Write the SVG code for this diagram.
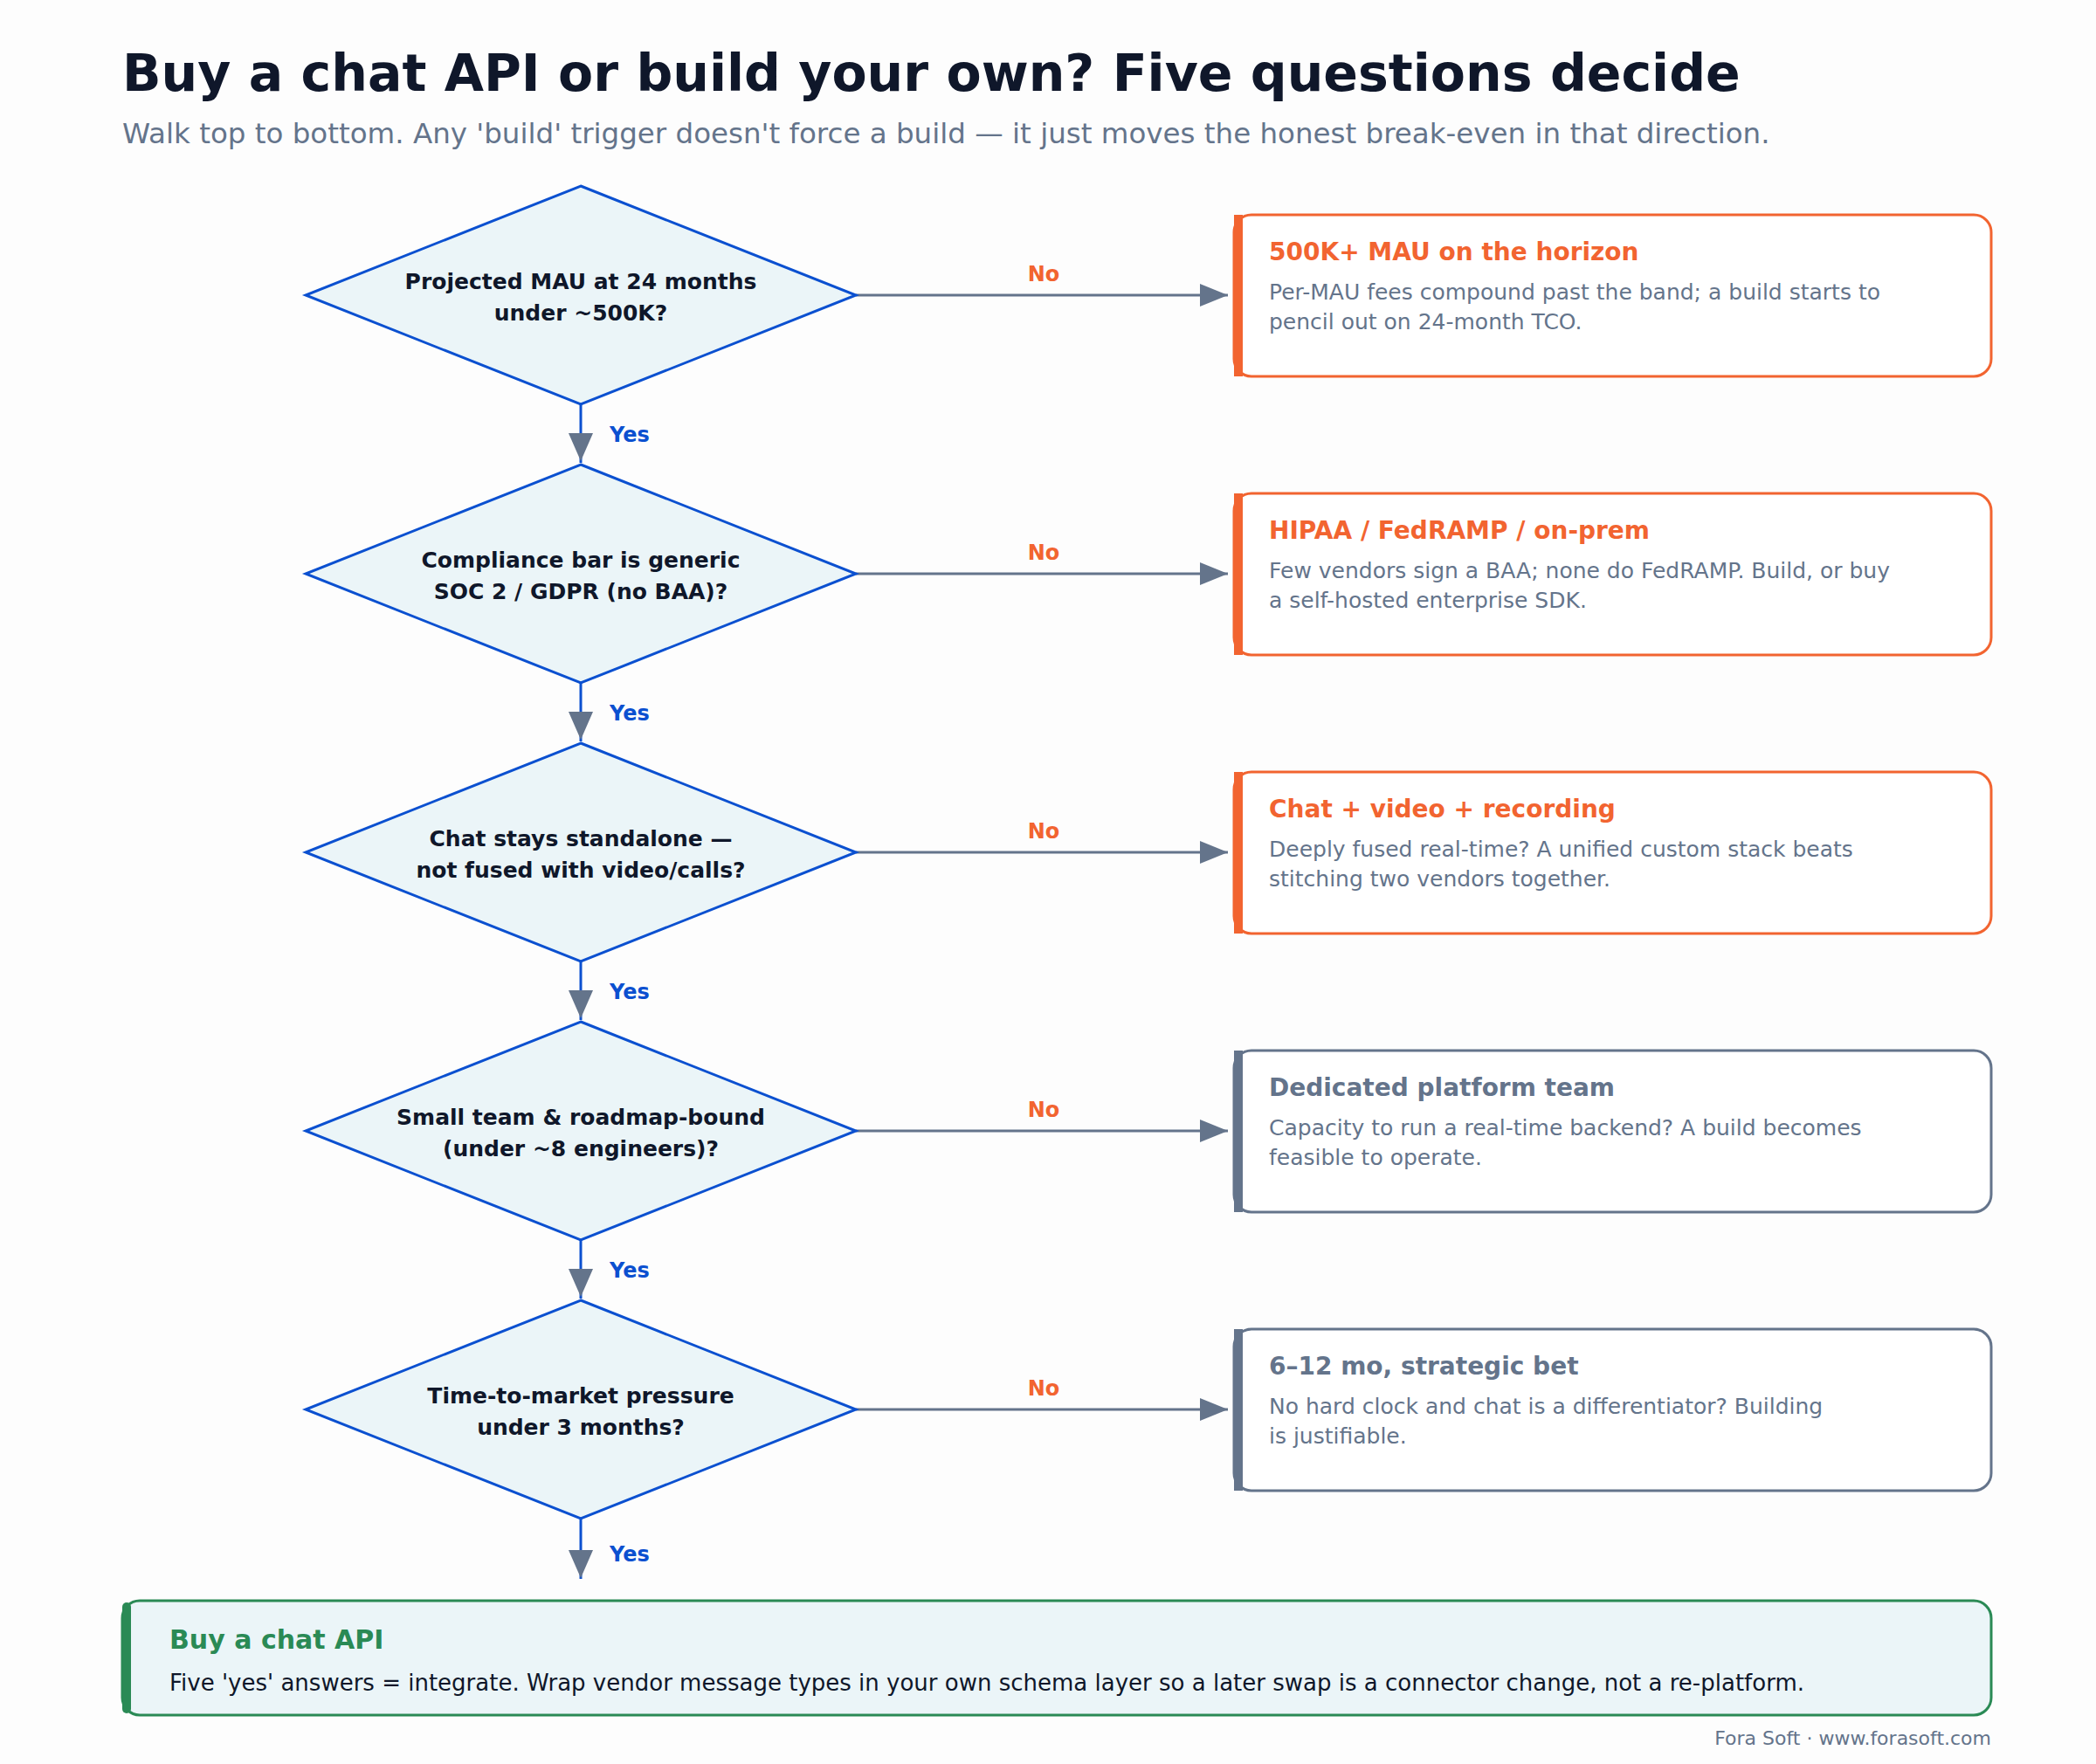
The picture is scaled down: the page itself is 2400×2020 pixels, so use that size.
<svg xmlns="http://www.w3.org/2000/svg" width="2400" height="2020" viewBox="0 0 2400 2020">
<style>
text{font-family:"DejaVu Sans","Liberation Sans",sans-serif}
.dia{fill:#EBF5F8;stroke:#0B50D0;stroke-width:3}
.dq{font-size:25px;font-weight:bold;fill:#0F172A;text-anchor:middle}
.ln{stroke:#64748B;stroke-width:3;fill:none}
.yl{stroke:#0B50D0;stroke-width:3;fill:none}
.no{font-size:24px;font-weight:bold;fill:#F26430;text-anchor:middle}
.yes{font-size:24px;font-weight:bold;fill:#0B50D0}
.bo{fill:#fff;stroke:#F26430;stroke-width:3}
.bg{fill:#fff;stroke:#64748B;stroke-width:3}
.bt{font-size:28px;font-weight:bold}
.bd{font-size:25px;fill:#64748B}
</style>
<defs>
<marker id="ah2" markerWidth="32" markerHeight="26" refX="32" refY="13" orient="auto" markerUnits="userSpaceOnUse"><path d="M0,0L32,13L0,26z" fill="#64748B"/></marker>
</defs>
<rect width="2400" height="2020" fill="#FDFDFD"/>
<text x="140" y="104" font-size="58.5" font-weight="bold" fill="#0F172A">Buy a chat API or build your own? Five questions decide</text>
<text x="140" y="164" font-size="32.5" fill="#64748B">Walk top to bottom. Any 'build' trigger doesn't force a build — it just moves the honest break-even in that direction.</text>

<g id="connectors">
<line class="ln" x1="980" y1="338" x2="1406" y2="338" marker-end="url(#ah2)"/>
<line class="ln" x1="980" y1="657" x2="1406" y2="657" marker-end="url(#ah2)"/>
<line class="ln" x1="980" y1="976" x2="1406" y2="976" marker-end="url(#ah2)"/>
<line class="ln" x1="980" y1="1295" x2="1406" y2="1295" marker-end="url(#ah2)"/>
<line class="ln" x1="980" y1="1614" x2="1406" y2="1614" marker-end="url(#ah2)"/>
<text class="no" x="1195" y="322">No</text>
<text class="no" x="1195" y="641">No</text>
<text class="no" x="1195" y="960">No</text>
<text class="no" x="1195" y="1279">No</text>
<text class="no" x="1195" y="1598">No</text>
<g>
<line class="yl" x1="665" y1="463" x2="665" y2="530"/>
<line class="yl" x1="665" y1="782" x2="665" y2="849"/>
<line class="yl" x1="665" y1="1101" x2="665" y2="1168"/>
<line class="yl" x1="665" y1="1420" x2="665" y2="1487"/>
<line class="yl" x1="665" y1="1739" x2="665" y2="1808"/>
<path d="M651,496L679,496L665,528z M651,815L679,815L665,847z M651,1134L679,1134L665,1166z M651,1453L679,1453L665,1485z M651,1775L679,1775L665,1807z" fill="#64748B"/>
</g>
<text class="yes" x="698" y="506">Yes</text>
<text class="yes" x="698" y="825">Yes</text>
<text class="yes" x="698" y="1144">Yes</text>
<text class="yes" x="698" y="1463">Yes</text>
<text class="yes" x="698" y="1788">Yes</text>
</g>

<g id="q1"><path class="dia" d="M665,213L980,338L665,463L350,338z"/><text class="dq" x="665" y="331">Projected MAU at 24 months</text><text class="dq" x="665" y="367">under ~500K?</text></g>
<g id="q2"><path class="dia" d="M665,532L980,657L665,782L350,657z"/><text class="dq" x="665" y="650">Compliance bar is generic</text><text class="dq" x="665" y="686">SOC 2 / GDPR (no BAA)?</text></g>
<g id="q3"><path class="dia" d="M665,851L980,976L665,1101L350,976z"/><text class="dq" x="665" y="969">Chat stays standalone —</text><text class="dq" x="665" y="1005">not fused with video/calls?</text></g>
<g id="q4"><path class="dia" d="M665,1170L980,1295L665,1420L350,1295z"/><text class="dq" x="665" y="1288">Small team &amp; roadmap-bound</text><text class="dq" x="665" y="1324">(under ~8 engineers)?</text></g>
<g id="q5"><path class="dia" d="M665,1489L980,1614L665,1739L350,1614z"/><text class="dq" x="665" y="1607">Time-to-market pressure</text><text class="dq" x="665" y="1643">under 3 months?</text></g>

<g id="o1"><rect class="bo" x="1413" y="246" width="867" height="185" rx="20"/><rect x="1413" y="246" width="10" height="185" fill="#F26430"/><text class="bt" x="1453" y="298" fill="#F26430">500K+ MAU on the horizon</text><text class="bd" x="1453" y="343">Per-MAU fees compound past the band; a build starts to</text><text class="bd" x="1453" y="377">pencil out on 24-month TCO.</text></g>
<g id="o2"><rect class="bo" x="1413" y="565" width="867" height="185" rx="20"/><rect x="1413" y="565" width="10" height="185" fill="#F26430"/><text class="bt" x="1453" y="617" fill="#F26430">HIPAA / FedRAMP / on-prem</text><text class="bd" x="1453" y="662">Few vendors sign a BAA; none do FedRAMP. Build, or buy</text><text class="bd" x="1453" y="696">a self-hosted enterprise SDK.</text></g>
<g id="o3"><rect class="bo" x="1413" y="884" width="867" height="185" rx="20"/><rect x="1413" y="884" width="10" height="185" fill="#F26430"/><text class="bt" x="1453" y="936" fill="#F26430">Chat + video + recording</text><text class="bd" x="1453" y="981">Deeply fused real-time? A unified custom stack beats</text><text class="bd" x="1453" y="1015">stitching two vendors together.</text></g>
<g id="o4"><rect class="bg" x="1413" y="1203" width="867" height="185" rx="20"/><rect x="1413" y="1203" width="10" height="185" fill="#64748B"/><text class="bt" x="1453" y="1255" fill="#64748B">Dedicated platform team</text><text class="bd" x="1453" y="1300">Capacity to run a real-time backend? A build becomes</text><text class="bd" x="1453" y="1334">feasible to operate.</text></g>
<g id="o5"><rect class="bg" x="1413" y="1522" width="867" height="185" rx="20"/><rect x="1413" y="1522" width="10" height="185" fill="#64748B"/><text class="bt" x="1453" y="1574" fill="#64748B">6–12 mo, strategic bet</text><text class="bd" x="1453" y="1619">No hard clock and chat is a differentiator? Building</text><text class="bd" x="1453" y="1653">is justifiable.</text></g>

<g id="buy"><rect x="140" y="1833" width="2140" height="131" rx="20" fill="#EBF5F8" stroke="#2A8A55" stroke-width="3"/><rect x="140" y="1835" width="10" height="127" rx="5" fill="#2A8A55"/><text x="194" y="1888" font-size="30" font-weight="bold" fill="#2A8A55">Buy a chat API</text><text x="194" y="1936" font-size="26" fill="#0F172A">Five 'yes' answers = integrate. Wrap vendor message types in your own schema layer so a later swap is a connector change, not a re-platform.</text></g>
<text x="2280" y="1998" font-size="22" fill="#64748B" text-anchor="end">Fora Soft · www.forasoft.com</text>
</svg>
